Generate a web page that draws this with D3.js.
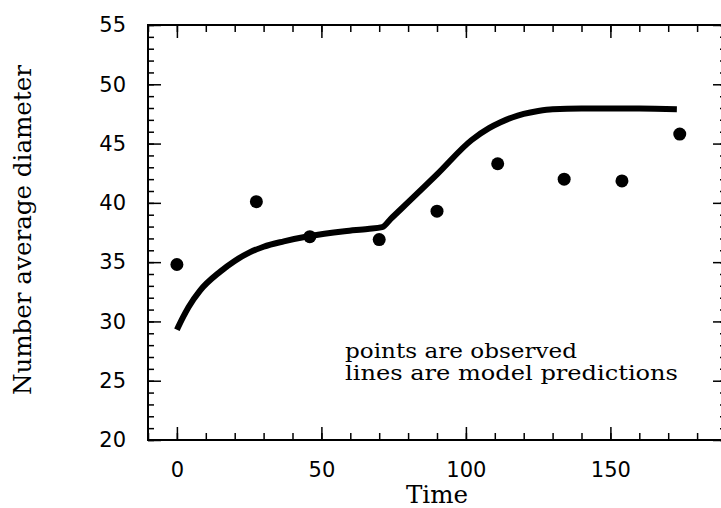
<!DOCTYPE html>
<html>
<head>
<meta charset="utf-8">
<script src="https://cdn.jsdelivr.net/npm/d3@7"></script>
<style>
  body { margin: 0; background: #fff; }
  svg { display: block; }
</style>
</head>
<body>
<div id="my_dataviz"></div>
<script>
// observed points
var obsTime = [0, 27.5, 46, 70, 90, 111, 134, 154, 174];
var obsDiam = [34.8, 40.1, 37.15, 36.9, 39.3, 43.3, 42.0, 41.85, 45.8];

// model prediction line
var modelTime = [0, 2, 4, 8, 15, 20, 25, 30, 37, 46, 58, 66, 71, 74, 90, 102, 108, 112, 116, 120, 125, 130, 140, 150, 160, 173];
var modelDiam = [29.3, 30.3, 31.2, 32.6, 34.2, 35.1, 35.8, 36.3, 36.75, 37.2, 37.6, 37.8, 37.95, 38.65, 42.4, 45.3, 46.3, 46.8, 47.2, 47.5, 47.75, 47.9, 47.95, 47.95, 47.95, 47.9];

// ticks
var xMajor = [0, 50, 100, 150];
var xMinor = d3.range(-10, 191, 10);
var yMajor = [20, 25, 30, 35, 40, 45, 50, 55];
var yMinor = d3.range(20, 56, 1);

var legendLines = ["points are observed", "lines are model predictions"];

var W = 721, H = 508;
var plot = {left: 148, right: 726, top: 25, bottom: 440};

var svg = d3.select("#my_dataviz")
  .append("svg")
    .attr("width", W)
    .attr("height", H);

var x = d3.scaleLinear().domain([-10, 190]).range([plot.left, plot.right]);
var y = d3.scaleLinear().domain([20, 55]).range([plot.bottom, plot.top]);

// frame
svg.append("rect")
  .attr("x", plot.left).attr("y", plot.top)
  .attr("width", plot.right - plot.left).attr("height", plot.bottom - plot.top)
  .attr("fill", "none").attr("stroke", "#000").attr("stroke-width", 2);

function tidy(g) {
  g.select(".domain").remove();
  g.selectAll("line").attr("stroke", "#000").attr("stroke-width", 1.5);
  g.selectAll("text")
    .attr("fill", "#000")
    .style("font-family", "'DejaVu Sans', sans-serif")
    .style("font-size", "21px");
}

// bottom
svg.append("g").attr("transform", "translate(0," + plot.bottom + ")")
  .call(d3.axisBottom(x).tickValues(xMinor).tickSize(-7).tickFormat(""))
  .call(tidy);
svg.append("g").attr("transform", "translate(0," + plot.bottom + ")")
  .call(d3.axisBottom(x).tickValues(xMajor).tickSize(-13).tickPadding(22).tickFormat(d3.format("d")))
  .call(tidy);
// top
svg.append("g").attr("transform", "translate(0," + plot.top + ")")
  .call(d3.axisTop(x).tickValues(xMinor).tickSize(-7).tickFormat(""))
  .call(tidy);
svg.append("g").attr("transform", "translate(0," + plot.top + ")")
  .call(d3.axisTop(x).tickValues(xMajor).tickSize(-13).tickFormat(""))
  .call(tidy);
// left
svg.append("g").attr("transform", "translate(" + plot.left + ",0)")
  .call(d3.axisLeft(y).tickValues(yMinor).tickSize(-6).tickFormat(""))
  .call(tidy);
svg.append("g").attr("transform", "translate(" + plot.left + ",0)")
  .call(d3.axisLeft(y).tickValues(yMajor).tickSize(-13).tickPadding(22).tickFormat(d3.format("d")))
  .call(tidy);
// right
svg.append("g").attr("transform", "translate(" + plot.right + ",0)")
  .call(d3.axisRight(y).tickValues(yMinor).tickSize(-6).tickFormat(""))
  .call(tidy);
svg.append("g").attr("transform", "translate(" + plot.right + ",0)")
  .call(d3.axisRight(y).tickValues(yMajor).tickSize(-13).tickFormat(""))
  .call(tidy);

// model line
var line = d3.line()
  .x(function (d) { return x(d[0]); })
  .y(function (d) { return y(d[1]); })
  .curve(d3.curveMonotoneX);

svg.append("path")
  .datum(d3.zip(modelTime, modelDiam))
  .attr("d", line)
  .attr("fill", "none")
  .attr("stroke", "#000")
  .attr("stroke-width", 6);

// observed points
svg.append("g")
  .selectAll("circle")
  .data(d3.zip(obsTime, obsDiam))
  .enter()
  .append("circle")
    .attr("cx", function (d) { return x(d[0]); })
    .attr("cy", function (d) { return y(d[1]); })
    .attr("r", 6.5)
    .attr("fill", "#000");

// legend text
svg.append("g")
  .selectAll("text")
  .data(legendLines)
  .enter()
  .append("text")
    .attr("x", 345)
    .attr("y", function (d, i) { return 358 + i * 22; })
    .attr("textLength", function (d, i) { return i === 0 ? 232 : 333; })
    .attr("lengthAdjust", "spacingAndGlyphs")
    .style("font-family", "'DejaVu Serif', serif")
    .style("font-size", "20px")
    .text(function (d) { return d; });

// axis titles
svg.append("text")
  .attr("x", 437).attr("y", 503)
  .attr("text-anchor", "middle")
  .attr("textLength", 62)
  .attr("lengthAdjust", "spacingAndGlyphs")
  .style("font-family", "'DejaVu Serif', serif")
  .style("font-size", "24px")
  .text("Time");

svg.append("text")
  .attr("transform", "translate(31,230) rotate(-90)")
  .attr("text-anchor", "middle")
  .attr("textLength", 330)
  .attr("lengthAdjust", "spacingAndGlyphs")
  .style("font-family", "'DejaVu Serif', serif")
  .style("font-size", "24px")
  .text("Number average diameter");
</script>
</body>
</html>
